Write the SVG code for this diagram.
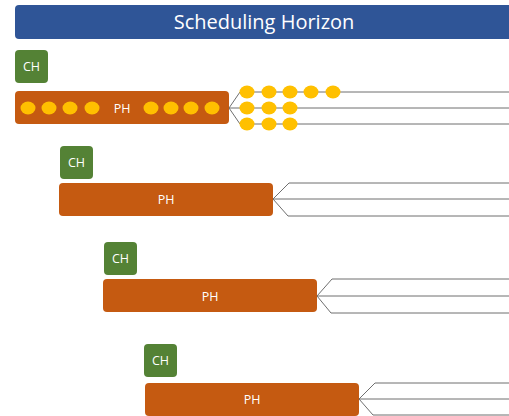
<svg xmlns="http://www.w3.org/2000/svg" width="509" height="416" viewBox="0 0 509 416">
  <style>
    .ch { fill: #548235; }
    .ph { fill: #C55A11; }
    .lbl { fill: #ffffff; font-family: "Open Sans", "Liberation Sans", sans-serif; text-anchor: middle; }
    .small { font-size: 12.5px; }
    .job { fill: #FFC000; }
    .wire { fill: none; stroke: #6f6f6f; stroke-width: 1; }
  </style>
  <rect width="509" height="416" fill="#ffffff"/>

  <g id="title">
    <rect x="15" y="5" width="510" height="34" rx="4" fill="#2F5597"/>
    <text class="lbl" x="264" y="29" font-size="20">Scheduling Horizon</text>
  </g>

  <g id="connectors">
    <polyline class="wire" points="509,92 240,92 229,108 240,124 509,124"/>
    <line class="wire" x1="229" y1="108" x2="509" y2="108"/>
    <polyline class="wire" points="509,183 289,183 273,199 288,216 509,216"/>
    <line class="wire" x1="273" y1="199" x2="509" y2="199"/>
    <polyline class="wire" points="509,279 332,279 317,296 331,313 509,313"/>
    <line class="wire" x1="317" y1="296" x2="509" y2="296"/>
    <polyline class="wire" points="509,383 375,383 359,399 373,415 509,415"/>
    <line class="wire" x1="359" y1="399" x2="509" y2="399"/>
  </g>

  <g id="ch1"><rect class="ch" x="15" y="50" width="33" height="33" rx="4"/><text class="lbl small" x="31.5" y="71">CH</text></g>
  <g id="ph1">
    <rect class="ph" x="15" y="91" width="214" height="33" rx="4"/>
    <text class="lbl small" x="122" y="112.5">PH</text>
    <ellipse class="job" cx="28" cy="108" rx="7.5" ry="6.5"/>
    <ellipse class="job" cx="49" cy="108" rx="7.5" ry="6.5"/>
    <ellipse class="job" cx="70" cy="108" rx="7.5" ry="6.5"/>
    <ellipse class="job" cx="92" cy="108" rx="7.5" ry="6.5"/>
    <ellipse class="job" cx="151" cy="108" rx="7.5" ry="6.5"/>
    <ellipse class="job" cx="171" cy="108" rx="7.5" ry="6.5"/>
    <ellipse class="job" cx="191" cy="108" rx="7.5" ry="6.5"/>
    <ellipse class="job" cx="212" cy="108" rx="7.5" ry="6.5"/>
  </g>
  <g id="jobs1">
    <ellipse class="job" cx="247" cy="92" rx="7.5" ry="6.5"/>
    <ellipse class="job" cx="269" cy="92" rx="7.5" ry="6.5"/>
    <ellipse class="job" cx="290" cy="92" rx="7.5" ry="6.5"/>
    <ellipse class="job" cx="311" cy="92" rx="7.5" ry="6.5"/>
    <ellipse class="job" cx="333" cy="92" rx="7.5" ry="6.5"/>
    <ellipse class="job" cx="247" cy="108" rx="7.5" ry="6.5"/>
    <ellipse class="job" cx="269" cy="108" rx="7.5" ry="6.5"/>
    <ellipse class="job" cx="290" cy="108" rx="7.5" ry="6.5"/>
    <ellipse class="job" cx="247" cy="124" rx="7.5" ry="6.5"/>
    <ellipse class="job" cx="269" cy="124" rx="7.5" ry="6.5"/>
    <ellipse class="job" cx="290" cy="124" rx="7.5" ry="6.5"/>
  </g>

  <g id="ch2"><rect class="ch" x="60" y="146" width="33" height="33" rx="4"/><text class="lbl small" x="76.5" y="167">CH</text></g>
  <g id="ph2"><rect class="ph" x="59" y="183" width="214" height="33" rx="4"/><text class="lbl small" x="166" y="204">PH</text></g>

  <g id="ch3"><rect class="ch" x="104" y="242" width="33" height="33" rx="4"/><text class="lbl small" x="120.5" y="263">CH</text></g>
  <g id="ph3"><rect class="ph" x="103" y="279" width="214" height="33" rx="4"/><text class="lbl small" x="210" y="300.5">PH</text></g>

  <g id="ch4"><rect class="ch" x="144" y="344" width="33" height="33" rx="4"/><text class="lbl small" x="160.5" y="365">CH</text></g>
  <g id="ph4"><rect class="ph" x="145" y="383" width="214" height="33" rx="4"/><text class="lbl small" x="252" y="404">PH</text></g>
</svg>
